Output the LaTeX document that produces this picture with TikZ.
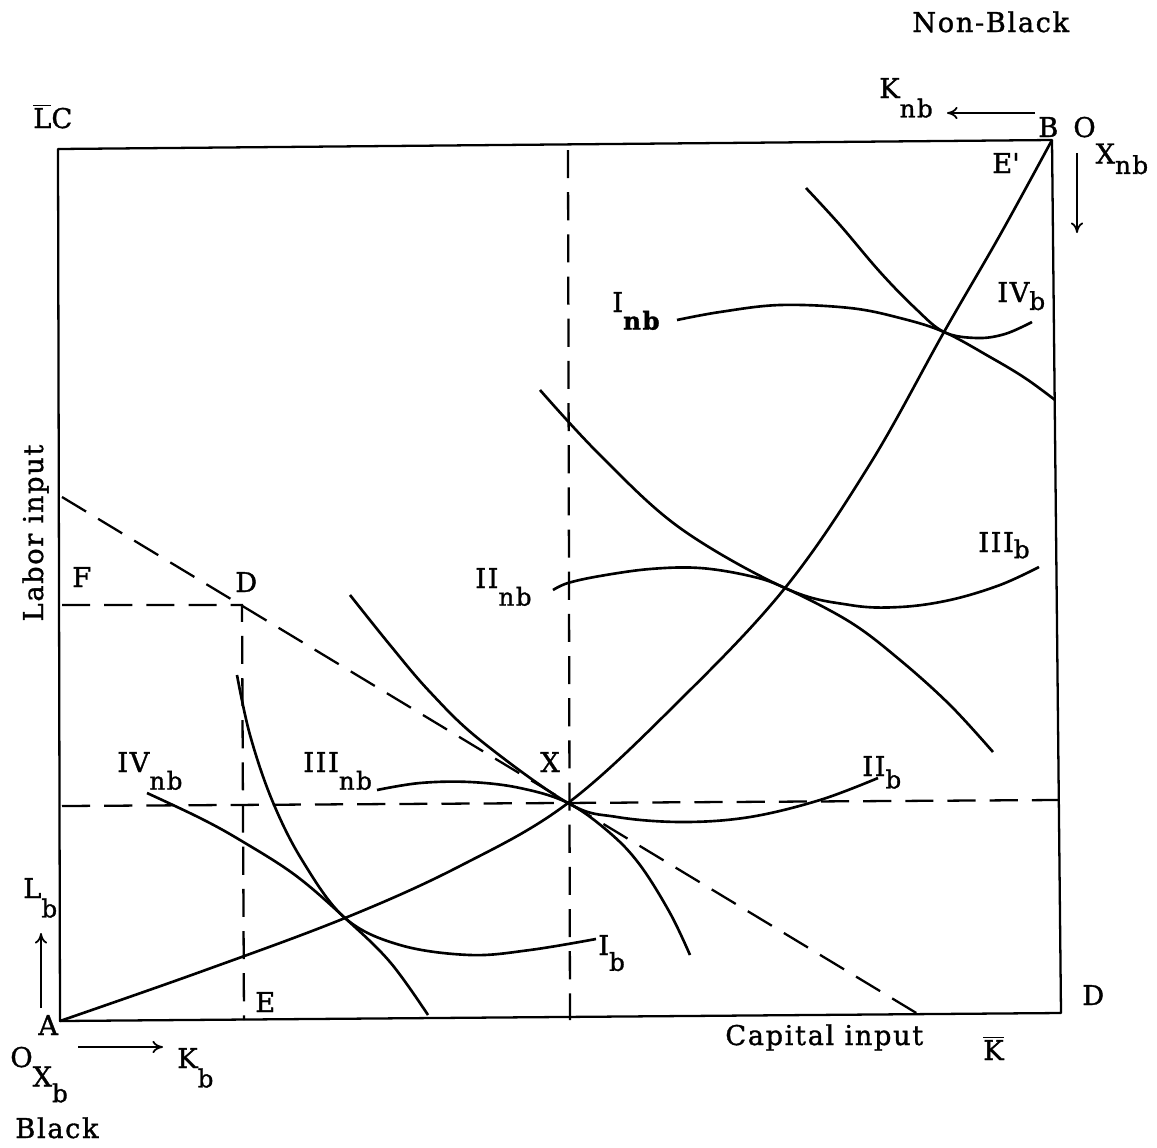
\documentclass[tikz,border=0pt]{standalone}
\usepackage{fontspec}
\setmainfont{DejaVu Serif}[LetterSpace=6, FakeBold=1.2]
\usetikzlibrary{arrows.meta}
\newcommand{\subfont}{\fontsize{14}{16}\selectfont}
% lowered subscript: \lsub[drop]{base}{sub}
\newcommand{\lsub}[3][10pt]{#2\raisebox{-#1}{\subfont #3}}
\newcommand{\obar}[1]{\ensuremath{\overline{\hbox{#1}}}}
\begin{document}
\begin{tikzpicture}[x=0.02cm, y=-0.02cm,
    every node/.style={font=\fontsize{15.5}{18}\selectfont, inner sep=0pt, anchor=base west},
    frame/.style={line width=1.3pt, line join=round},
    curve/.style={line width=1.5pt, smooth, tension=0.6},
    guide/.style={line width=1.3pt, dash pattern=on 16pt off 8pt},
    dirarrow/.style={line width=1pt, -{To[length=6pt, width=7pt]}}]
  \useasboundingbox (0,0) rectangle (1157,1147);
  % Corners of the box
  \coordinate (A) at (60,1021);
  \coordinate (D) at (1061,1013);
  \coordinate (B) at (1052,140);
  \coordinate (LC) at (58,149);
  % Tangency points on the contract curve
  \coordinate (X) at (568,803);
  \coordinate (T1) at (345,918);
  \coordinate (T3) at (785,588);
  \coordinate (T4) at (944,332);
  \coordinate (Dpt) at (242,605);
  % Box
  \draw[frame] (A) -- (D) -- (B) -- (LC) -- cycle;
  % Dashed guides
  \draw[guide] (62,806) -- (1058,800);
  \draw[guide] (568,150) -- (570,1020);
  \draw[guide] (62,497) -- (918,1014);
  \draw[guide] (62,605) -- (Dpt) -- (244,1020);
  % Contract curve
  \draw[curve] plot coordinates {(A) (200,972) (T1) (460,866) (X) (680,700)
    (T3) (870,464) (T4) (1000,235) (B)};
  % Black isoquants
  \draw[curve] plot coordinates {(237,675) (250,735) (272,800) (302,860) (T1)
    (400,945) (470,955) (530,950) (596,939)};
  \draw[curve] plot coordinates {(350,595) (390,645) (430,692) (480,740)
    (X) (617,817) (683,822) (750,817) (820,800) (878,778)};
  \draw[curve] plot coordinates {(540,390) (600,455) (680,528)
    (T3) (850,605) (900,607) (950,600) (1000,585) (1039,567)};
  \draw[curve] plot coordinates {(806,188) (840,225) (880,272) (915,308) (T4)
    (977,338) (1005,334) (1032,322)};
  % Non-Black isoquants
  \draw[curve] plot coordinates {(147,793) (200,818) (240,840) (295,875) (T1)
    (390,962) (428,1015)};
  \draw[curve] plot coordinates {(377,790) (420,783) (470,782) (520,788) (X)
    (610,833) (640,865) (670,913) (690,955)};
  \draw[curve] plot coordinates {(553,590) (568,583) (600,576) (650,569)
    (700,568) (750,576) (T3) (850,622) (900,660) (950,705) (993,752)};
  \draw[curve] plot coordinates {(677,320) (720,312) (780,305) (850,308)
    (900,318) (T4) (990,357) (1025,378) (1055,400)};
  % Origins and directions
  \coordinate (knbtail) at (1035,113);
  \coordinate (knbhead) at (947,113);
  \coordinate (lnbtail) at (1077,153);
  \coordinate (lnbhead) at (1077,233);
  \coordinate (lbtail) at (41,1008);
  \coordinate (lbhead) at (41,933);
  \coordinate (kbtail) at (78,1047);
  \coordinate (kbhead) at (163,1047);
  \draw[dirarrow] (knbtail) -- (knbhead);
  \draw[dirarrow] (lnbtail) -- (lnbhead);
  \draw[dirarrow] (lbtail) -- (lbhead);
  \draw[dirarrow] (kbtail) -- (kbhead);
  % Labels
  \node (nonblack) at (912,32) {Non-Black};
  \node (lclab) at (33,128) {\obar{L}C};
  \node (knb) at (879,98) {\lsub[11pt]{K}{nb}};
  \node (blab) at (1038,137) {B};
  \node (oxnb) at (1073,137) {O\raisebox{-15pt}{X\raisebox{-6pt}{\subfont nb}}};
  \node (eprime) at (992,173) {E\textquotesingle};
  \node (ivb) at (997,302) {\lsub[4.5pt]{IV}{b}};
  \node (inb) at (612,312) {\lsub{I}{\bfseries nb}};
  \node (iiib) at (978,552) {\lsub[3.5pt]{III}{b}};
  \node (iinb) at (475,588) {\lsub{II}{nb}};
  \node (flab) at (72,587) {F};
  \node (dlab) at (235,592) {D};
  \node (xlab) at (540,772) {X};
  \node (ivnb) at (117,772) {\lsub{IV}{nb}};
  \node (iiinb) at (303,772) {\lsub{III}{nb}};
  \node (iib) at (862,776) {\lsub[7pt]{II}{b}};
  \node (lb) at (23,898) {\lsub[11pt]{L}{b}};
  \node (ib) at (598,955) {\lsub[9pt]{I}{b}};
  \node (elab) at (255,1012) {E};
  \node (alab) at (38,1035) {A};
  \node (oxb) at (10,1067) {O\raisebox{-11pt}{X\raisebox{-9pt}{\subfont b}}};
  \node (kb) at (177,1068) {\lsub[11pt]{K}{b}};
  \node (black) at (15,1138) {Black};
  \node (drlab) at (1082,1005) {D};
  \node (capital) at (725,1045) {Capital input};
  \node (kbar) at (983,1060) {\obar{K}};
  \node[rotate=90, anchor=base] (labor) at (43,533) {Labor input};
\end{tikzpicture}
\end{document}
